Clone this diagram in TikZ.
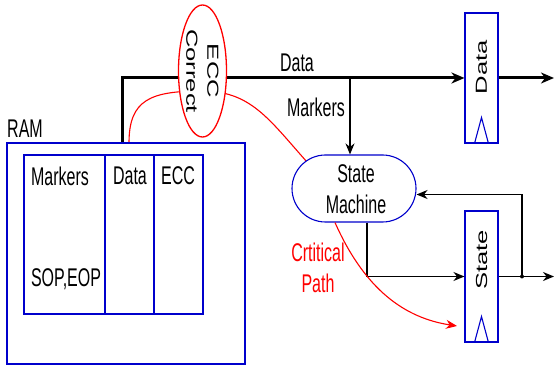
\documentclass[tikz,border=0pt]{standalone}
\usepackage{graphicx}
\usepackage{fontspec}
\setmainfont{Liberation Sans}
\usetikzlibrary{shapes.geometric,shapes.misc,arrows.meta}
\pgfdeclarelayer{bg}
\pgfsetlayers{bg,main}
\newcommand\tallt[1]{\scalebox{1}[1.6]{#1}}
\newcommand\longt[1]{\scalebox{1.6}[1]{#1}}
\begin{document}
\begin{tikzpicture}[x=1pt,y=-1pt,
  txt/.style={font=\fontsize{16}{31}\selectfont, inner sep=0pt, align=center},
  rtxt/.style={font=\fontsize{16}{21}\selectfont, inner sep=0pt, align=center},
  bluebox/.style={draw=blue!80!black, line width=1.1pt},
  reg/.style={bluebox, minimum width=33pt, inner sep=0pt},
  wire/.style={line width=1.3pt, -{Stealth[length=11pt,width=9pt,inset=3.5pt]}},
  fat/.style={line width=3pt, -{Stealth[length=13pt,width=11pt,inset=4pt]}},
  redwire/.style={red, line width=1.1pt}]
\useasboundingbox (0,0) rectangle (555,366);
% RAM
\node[bluebox, rectangle, minimum width=238pt, minimum height=221pt, inner sep=0pt] (ram) at (126,253.5) {};
\node[txt, anchor=west] (ramlbl) at (7,129) {\tallt{RAM}};
\node[bluebox, rectangle, minimum width=81pt, minimum height=159pt, inner sep=0pt] (cmark) at (64.5,234.5) {};
\node[bluebox, rectangle, minimum width=49pt, minimum height=159pt, inner sep=0pt] (cdata) at (129.5,234.5) {};
\node[bluebox, rectangle, minimum width=49pt, minimum height=159pt, inner sep=0pt] (cecc) at (178.5,234.5) {};
\node[txt] (tmark) at (60,176) {\tallt{Markers}};
\node[txt] (tdata) at (130,176) {\tallt{Data}};
\node[txt] (tecc) at (178,176) {\tallt{ECC}};
\node[txt] (tsop) at (66,279) {\tallt{SOP,EOP}};
% ECC correct
\node[ellipse, draw=red, fill=white, line width=1.3pt, minimum width=48pt, minimum height=132pt, inner sep=0pt] (ecc) at (202.5,71) {};
\node[rtxt, rotate=-90] (ecct) at (ecc) {\longt{ECC}\\\longt{Correct}};
% registers
\node[reg, minimum height=130pt] (dreg) at (481.5,78) {};
\node[rtxt, rotate=90] (dregt) at (481.5,67) {\longt{Data}};
\node[reg, minimum height=131pt] (sreg) at (481.5,276.5) {};
\node[rtxt, rotate=90] (sregt) at (481.5,260) {\longt{State}};
\draw[bluebox] ([xshift=-7pt]dreg.south) -- ([yshift=26pt]dreg.south) -- ([xshift=7pt]dreg.south);
\draw[bluebox] ([xshift=-7pt]sreg.south) -- ([yshift=26pt]sreg.south) -- ([xshift=7pt]sreg.south);
% state machine
\node[rounded rectangle, bluebox, fill=white, minimum width=124pt, minimum height=67pt, inner sep=0pt] (sm) at (354,188.5) {};
\node[txt] (smt) at (356,189) {\tallt{State}\\\tallt{Machine}};
% coordinates
\coordinate (dtap) at (122,143);
\coordinate (rtap) at (129,143);
\coordinate (mk) at (350,78);
\coordinate (fb) at (522,276.5);
\coordinate (dout) at (554,78);
\coordinate (sout) at (554,276.5);
\coordinate (cpend) at (457,326);
% wires
\begin{pgfonlayer}{bg}
\draw[fat] (dtap) |- (dreg.west);
\draw[redwire] (rtap) .. controls (129,100) and (150,91) .. (202,91) .. controls (250,91) and (268,118) .. (sm.150);
\end{pgfonlayer}
\draw[fat] (dreg.east) -- (dout);
\draw[wire] (mk) -- (mk |- sm.north);
\node[txt] (datalbl) at (297,63) {\tallt{Data}};
\node[txt] (mklbl) at (316,107) {\tallt{Markers}};
\draw[wire] ([xshift=13pt]sm.south) |- (sreg.west);
\draw[wire] (sreg.east) -- (sout);
\fill (fb) circle (2pt);
\draw[wire] (fb) |- ([yshift=-6pt]sm.east);
\draw[redwire, -{Stealth[length=11pt,width=9pt,inset=3.5pt]}] ([xshift=-19pt]sm.south) .. controls (365,290) and (405,318) .. (cpend);
\node[txt, text=red] (crit) at (318,268) {\tallt{Crtitical}\\\tallt{Path}};
\end{tikzpicture}
\end{document}
